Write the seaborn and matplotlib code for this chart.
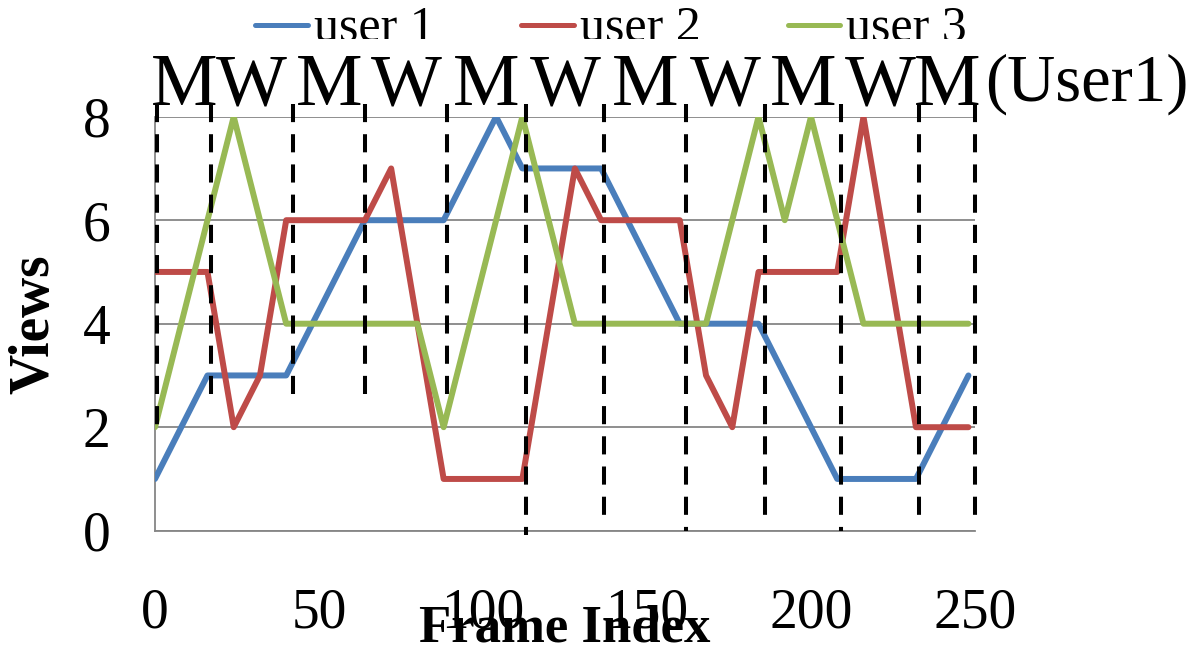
import matplotlib
matplotlib.use("Agg")
import matplotlib.pyplot as plt
import matplotlib.transforms as mtransforms
from matplotlib.patches import Rectangle
import numpy as np
import pandas as pd
import seaborn as sns

# Views per frame for each user (vertices of the piecewise-linear traces)
user1_frames = [0, 16, 40, 64, 88, 104, 112, 136, 160, 184, 208, 232, 248]
user1_views = [1, 3, 3, 6, 6, 8, 7, 7, 4, 4, 1, 1, 3]

user2_frames = [0, 16, 24, 32, 40, 64, 72, 88, 112, 128, 136, 160, 168, 176, 184, 208, 216, 232, 248]
user2_views = [5, 5, 2, 3, 6, 6, 7, 1, 1, 7, 6, 6, 3, 2, 5, 5, 8, 2, 2]

user3_frames = [0, 24, 40, 80, 88, 112, 128, 168, 184, 192, 200, 216, 248]
user3_views = [2, 8, 4, 4, 2, 8, 4, 4, 8, 6, 8, 4, 4]

user_names = ["user 1", "user 2", "user 3"]
user_colors = ["#4A7EBB", "#BE4B48", "#98B954"]

# Segment boundaries for user 1 and the segment type (M / W)
segment_bounds = [0.5, 17, 42, 64, 89, 113, 137, 162, 186, 209, 233, 250]
segment_bound_bottoms = [2.0, 2.5, 2.5, 2.5, 2.5, -0.08, 0.15, 0.0, 0.15, 0.0, 0.15, 0.15]
segment_labels = ["M", "W", "M", "W", "M", "W", "M", "W", "M", "W", "M"]

x_ticks = [0, 50, 100, 150, 200, 250]
y_ticks = [0, 2, 4, 6, 8]

frames = {"user 1": (user1_frames, user1_views),
          "user 2": (user2_frames, user2_views),
          "user 3": (user3_frames, user3_views)}
rows = []
for name in user_names:
    fr, vw = frames[name]
    for f, v in zip(fr, vw):
        rows.append({"frame": f, "views": v, "user": name})
df = pd.DataFrame(rows)

sns.set_theme(style="white")
plt.rcParams["font.family"] = ["Liberation Serif", "DejaVu Serif"]
plt.rcParams["text.color"] = "black"
plt.rcParams["axes.labelcolor"] = "black"

W, H = 1186, 650
fig = plt.figure(figsize=(W / 100, H / 100), dpi=100)
ax = fig.add_axes([155 / W, 1 - 530.7 / H, 820 / W, 414 / H])

sns.lineplot(data=df, x="frame", y="views", hue="user", hue_order=user_names,
             palette=dict(zip(user_names, user_colors)), linewidth=4.3,
             estimator=None, sort=False, ax=ax, zorder=3)

ax.set_xlim(0, 250)
ax.set_ylim(0, 8)
ax.set_xticks(x_ticks)
ax.set_yticks(y_ticks)
ax.set_axisbelow(True)
ax.grid(axis="y", color="#868686", linewidth=1.3)
ax.grid(axis="x", visible=False)
for side in ["top", "right"]:
    ax.spines[side].set_visible(False)
for side in ["left", "bottom"]:
    ax.spines[side].set_color("#868686")
    ax.spines[side].set_linewidth(1.3)
ax.tick_params(axis="both", length=0, labelsize=40, colors="black")
ax.tick_params(axis="x", pad=41)
ax.tick_params(axis="y", pad=32)

# Dashed segment boundaries
for xb, yb in zip(segment_bounds, segment_bound_bottoms):
    ax.plot([xb, xb], [8.25, yb], color="black", linewidth=2.9,
            linestyle=(0, (4.5, 3)), clip_on=False, zorder=4)

# Segment type labels above the plot
trans = mtransforms.blended_transform_factory(ax.transData, ax.transAxes)
for i, lab in enumerate(segment_labels):
    mid = (segment_bounds[i] + segment_bounds[i + 1]) / 2
    ax.text(mid, 1.028, lab, transform=trans, ha="center", va="baseline",
            fontsize=54, color="black", clip_on=False)
ax.text(1.012, 1.040, "(User1)", transform=ax.transAxes, ha="left",
        va="baseline", fontsize=48, color="black", clip_on=False)

ax.set_xlabel("Frame Index", fontsize=38, fontweight="bold", color="black")
ax.xaxis.label.set_va("baseline")
ax.xaxis.set_label_coords(0.5, -0.268)
ax.set_ylabel("Views", fontsize=40, fontweight="bold", color="black")
ax.yaxis.label.set_va("center")
ax.yaxis.set_label_coords(-0.1476, 0.5)

sns.move_legend(ax, loc="center left", bbox_to_anchor=(255 / W, 1 - 28.4 / H),
                bbox_transform=fig.transFigure, ncol=3, title=None, frameon=False,
                fontsize=36, handlelength=1.05, handleheight=0.5, handletextpad=0.12,
                columnspacing=1.74, borderpad=0, borderaxespad=0)
leg = ax.get_legend()
for h in leg.legend_handles:
    h.set_linewidth(3.6)
for t in leg.get_texts():
    t.set_color("black")

# Band that trims the legend row from below
fig.add_artist(Rectangle((0, 1 - 52 / H), 1, 13 / H, transform=fig.transFigure,
                         facecolor="white", edgecolor="none", zorder=5))

fig.savefig("out.png", dpi=100)
